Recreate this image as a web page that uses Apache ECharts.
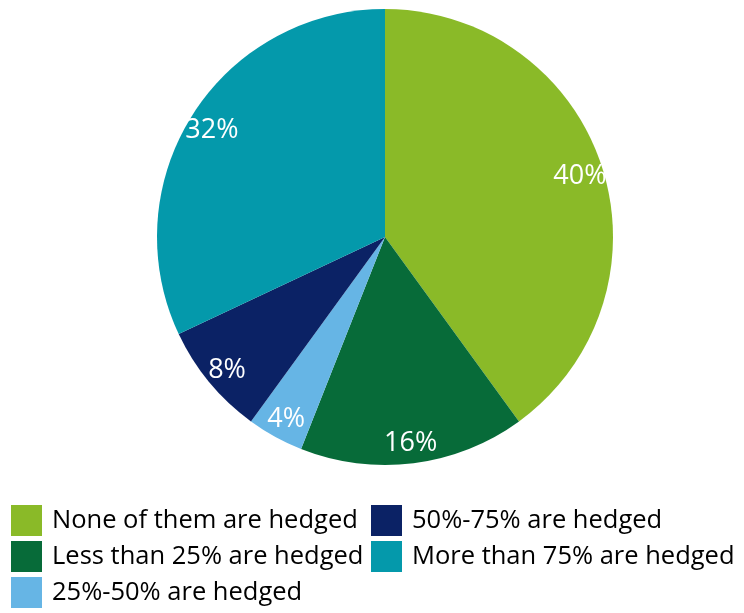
<!DOCTYPE html>
<html>
<head>
<meta charset="utf-8">
<script src="https://cdn.jsdelivr.net/npm/echarts@6/dist/echarts.min.js"></script>
<style>
  html, body { margin: 0; padding: 0; background: #ffffff; }
  #chart { width: 744px; height: 613px; }
</style>
</head>
<body>
<div id="chart"></div>
<script>
// Share of positions hedged
const categories = [
  'None of them are hedged',
  'Less than 25% are hedged',
  '25%-50% are hedged',
  '50%-75% are hedged',
  'More than 75% are hedged'
];
const shares = [40, 16, 4, 8, 32];
const colors = ['#8aba28', '#076b39', '#66b5e5', '#0b2265', '#0499ab'];

// Legend layout: two columns, filled row by row
const legendLeftColumn = [categories[0], categories[1], categories[2]];
const legendRightColumn = [categories[3], categories[4]];

const pieData = categories.map((name, i) => ({
  name: name,
  value: shares[i],
  itemStyle: { color: colors[i] }
}));

const chart = echarts.init(document.getElementById('chart'), null, { renderer: 'canvas' });

const legendBase = {
  orient: 'vertical',
  icon: 'rect',
  padding: 0,
  height: 110,
  itemWidth: 31,
  itemHeight: 31,
  itemGap: 5,
  selectedMode: false,
  textStyle: {
    fontFamily: 'Open Sans',
    fontSize: 25.5,
    color: '#000000',
    padding: [0, 0, 0, 5]
  }
};

chart.setOption({
  animation: false,
  backgroundColor: '#ffffff',
  legend: [
    Object.assign({}, legendBase, { left: 11, top: 505, data: legendLeftColumn }),
    Object.assign({}, legendBase, { left: 371, top: 505, data: legendRightColumn })
  ],
  series: [
    {
      type: 'pie',
      center: [385, 237],
      radius: [0, 228],
      startAngle: 90,
      clockwise: true,
      label: { show: false },
      labelLine: { show: false },
      emphasis: { disabled: true },
      itemStyle: { borderWidth: 0 },
      data: pieData
    },
    {
      // transparent ring carrying the percentage labels near the rim
      type: 'pie',
      center: [385, 237],
      radius: [176, 228],
      startAngle: 90,
      clockwise: true,
      silent: true,
      legendHoverLink: false,
      emphasis: { disabled: true },
      itemStyle: { color: 'rgba(0,0,0,0)', borderWidth: 0 },
      label: {
        show: true,
        position: 'inside',
        offset: [0, 3],
        formatter: '{c}%',
        color: '#ffffff',
        fontFamily: 'Open Sans',
        fontSize: 27
      },
      labelLine: { show: false },
      data: categories.map((name, i) => ({ name: name, value: shares[i] }))
    }
  ]
});
</script>
</body>
</html>
